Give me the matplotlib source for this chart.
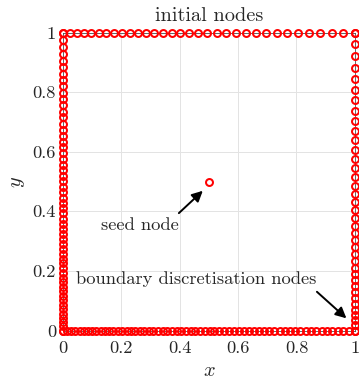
import numpy as np
import matplotlib.pyplot as plt

plt.rcParams['font.family'] = 'serif'
plt.rcParams['font.serif'] = ['cmr10', 'DejaVu Serif']
plt.rcParams['mathtext.fontset'] = 'cm'
plt.rcParams['axes.unicode_minus'] = False

# boundary discretisation, one list per side of the unit square
bottom_x = [0.0, 0.014, 0.028, 0.042, 0.057, 0.071, 0.085, 0.100, 0.114, 0.129,
            0.144, 0.158, 0.173, 0.188, 0.203, 0.218, 0.233, 0.248, 0.264, 0.279,
            0.294, 0.310, 0.326, 0.341, 0.357, 0.373, 0.389, 0.405, 0.421, 0.437,
            0.453, 0.469, 0.486, 0.502, 0.519, 0.535, 0.552, 0.569, 0.586, 0.603,
            0.620, 0.637, 0.654, 0.672, 0.689, 0.707, 0.724, 0.742, 0.760, 0.777,
            0.795, 0.813, 0.831, 0.850, 0.868, 0.886, 0.905, 0.923, 0.942, 0.961,
            0.980, 1.0]
left_y = [0.0, 0.014, 0.028, 0.043, 0.057, 0.072, 0.086, 0.101, 0.116, 0.131,
          0.146, 0.162, 0.177, 0.193, 0.209, 0.225, 0.241, 0.257, 0.274, 0.290,
          0.307, 0.324, 0.341, 0.358, 0.375, 0.393, 0.410, 0.428, 0.446, 0.464,
          0.482, 0.501, 0.519, 0.538, 0.557, 0.576, 0.595, 0.615, 0.634, 0.654,
          0.674, 0.694, 0.715, 0.735, 0.756, 0.777, 0.798, 0.819, 0.841, 0.862,
          0.884, 0.906, 0.928, 0.951, 0.974, 1.0]
top_x = [0.0, 0.024, 0.048, 0.072, 0.097, 0.123, 0.149, 0.175, 0.202, 0.229,
         0.256, 0.284, 0.313, 0.342, 0.372, 0.402, 0.432, 0.464, 0.495, 0.528,
         0.560, 0.594, 0.627, 0.662, 0.697, 0.733, 0.769, 0.806, 0.843, 0.882,
         0.920, 0.960, 1.0]
right_y = [0.0, 0.017, 0.034, 0.052, 0.070, 0.089, 0.108, 0.128, 0.148, 0.169,
           0.190, 0.211, 0.233, 0.256, 0.279, 0.303, 0.327, 0.352, 0.378, 0.404,
           0.431, 0.458, 0.486, 0.515, 0.545, 0.575, 0.606, 0.638, 0.670, 0.703,
           0.737, 0.772, 0.808, 0.845, 0.882, 0.920, 0.960, 1.0]

seed = (0.5, 0.5)

ticks = [0, 0.2, 0.4, 0.6, 0.8, 1]
tick_labels = ['0', '0.2', '0.4', '0.6', '0.8', '1']

txt = '#262626'
fs = 13.3

xs = np.concatenate([bottom_x, np.zeros(len(left_y)), top_x, np.ones(len(right_y))])
ys = np.concatenate([np.zeros(len(bottom_x)), left_y, np.ones(len(top_x)), right_y])

fig = plt.figure(figsize=(3.59, 3.83), dpi=100)
ax = fig.add_axes([0.1755, 0.137, 0.813, 0.778])

mk = dict(ls='none', marker='o', mfc='none', mec='red', ms=5.0, mew=1.45, zorder=5)
ax.plot(xs, ys, clip_on=False, **mk)
ax.plot([seed[0]], [seed[1]], **mk)

ax.set_xlim(0, 1)
ax.set_ylim(0, 1)
ax.set_xticks(ticks)
ax.set_xticklabels(tick_labels)
ax.set_yticks(ticks)
ax.set_yticklabels(tick_labels)
ax.grid(True, color='#e3e3e3', lw=0.7)
ax.set_axisbelow(True)
for s in ax.spines.values():
    s.set_color('#4d4d4d')
    s.set_linewidth(0.6)
ax.tick_params(direction='in', length=0, labelsize=fs, colors=txt, pad=7)
ax.tick_params(axis='y', pad=5)

ax.set_title('initial nodes', fontsize=14.6, color=txt, pad=8)
ax.set_xlabel('$x$', fontsize=14.6, color=txt, labelpad=5)
ax.set_ylabel('$y$', fontsize=14.6, color=txt, labelpad=4)

arrow = dict(arrowstyle='-|>', color='black', lw=1.4, mutation_scale=16,
             shrinkA=0, shrinkB=0)
ax.annotate('', xy=(0.479, 0.469), xytext=(0.397, 0.394), arrowprops=arrow)
ax.text(0.129, 0.354, 'seed node', fontsize=fs, color=txt, va='center', ha='left')
ax.annotate('', xy=(0.971, 0.041), xytext=(0.870, 0.130), arrowprops=arrow)
ax.text(0.045, 0.172, 'boundary discretisation nodes', fontsize=fs, color=txt,
        va='center', ha='left')

fig.savefig('out.png', dpi=100)
